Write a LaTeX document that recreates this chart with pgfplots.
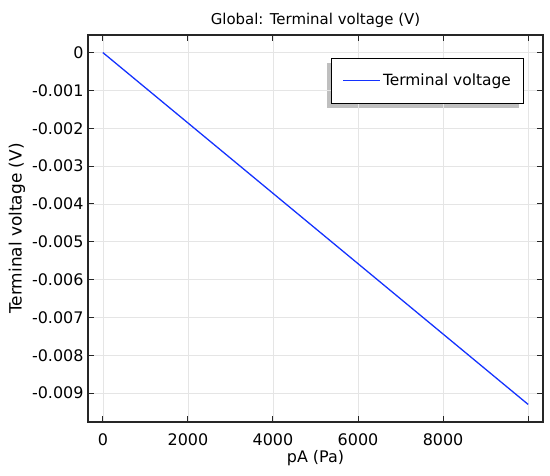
\documentclass[border=0pt]{standalone}
\usepackage{fontspec}
\setmainfont{DejaVu Sans}
\usepackage{pgfplots}
\pgfplotsset{compat=1.18}
\usetikzlibrary{backgrounds,calc}
\definecolor{lineblue}{RGB}{20,50,255}
\begin{document}
\begin{tikzpicture}
\path[use as bounding box] (-88bp,-54bp) rectangle (462bp,422bp);
\begin{axis}[
  at={(0,0)}, anchor=south west,
  scale only axis, width=455bp, height=387bp,
  xmin=-350, xmax=10350,
  ymin=-0.009765, ymax=0.000465,
  xtick={0,2000,4000,6000,8000,10000},
  xticklabels={0,2000,4000,6000,8000,},
  ytick={-0.009,-0.008,-0.007,-0.006,-0.005,-0.004,-0.003,-0.002,-0.001,0},
  yticklabels={-0.009,-0.008,-0.007,-0.006,-0.005,-0.004,-0.003,-0.002,-0.001,0},
  scaled y ticks=false, scaled x ticks=false,
  tick align=inside, major tick length=6bp,
  tick style={black!85, line width=1pt},
  axis line style={black!85, line width=1.2pt},
  grid=major, grid style={black!10, line width=0.6pt},
  ticklabel style={font=\fontsize{16}{18}\selectfont},
  xticklabel style={yshift=-8bp},
  yticklabel style={xshift=-1bp},
  /pgf/number format/assume math mode=true,
  title={Global: Terminal voltage (V)},
  title style={font=\fontsize{15}{17}\selectfont, yshift=-2bp},
  xlabel={pA (Pa)}, ylabel={Terminal voltage (V)},
  xlabel style={font=\fontsize{16}{18}\selectfont, yshift=2bp},
  ylabel style={font=\fontsize{17}{19}\selectfont, yshift=0bp},
  legend style={at={(0.958,0.94)}, anchor=north east, name=leg,
    draw=black, line width=1pt, fill=white, outer sep=0pt,
    font=\fontsize{15.5}{17}\selectfont,
    inner xsep=11bp, inner ysep=14bp},
  legend cell align=left,
  legend image code/.code={\draw[color=lineblue, line width=1.3pt] (-3bp,0bp) -- (34bp,0bp);},
]
\addplot[color=lineblue, line width=1.3pt] coordinates {(0,0) (10000,-0.0093)};
\addlegendentry{Terminal voltage}
\end{axis}
\begin{scope}[on background layer]
\fill[black!25] ($(leg.south west)+(-5bp,-5bp)$) rectangle ($(leg.north east)+(-5bp,-5bp)$);
\end{scope}
\end{tikzpicture}
\end{document}
